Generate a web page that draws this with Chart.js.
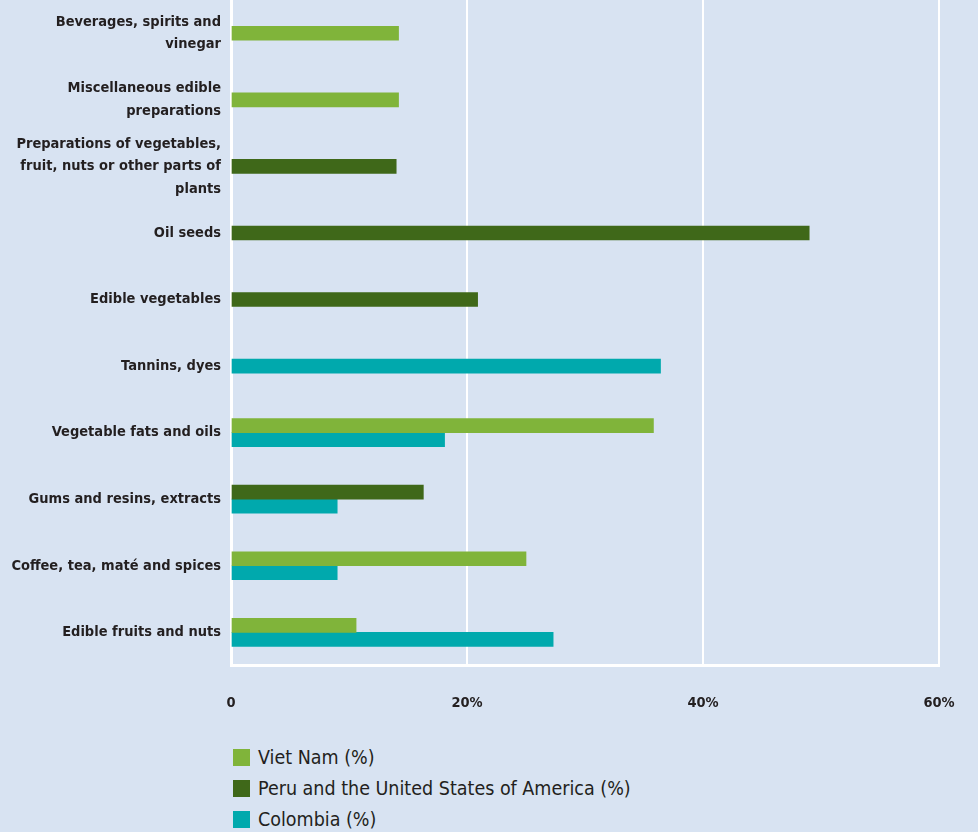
<!DOCTYPE html>
<html>
<head>
<meta charset="utf-8">
<script src="https://cdn.jsdelivr.net/npm/chart.js@4/dist/chart.umd.min.js"></script>
<style>
  html, body { margin: 0; padding: 0; background: #d8e3f2; }
  #wrap { position: relative; width: 978px; height: 741px; }
  #legend { margin: 1px 0 0 233px; font-family: "DejaVu Sans Condensed", "Liberation Sans Narrow", sans-serif;
            font-size: 19.5px; color: #231f20; }
  #legend div { height: 31px; line-height: 31px; display: flex; align-items: center; }
  #legend span.box { width: 17px; height: 17px; display: inline-block; margin-right: 8px; }
</style>
</head>
<body>
<div id="wrap"><canvas id="productChart"></canvas></div>
<div id="legend"></div>
<script>
// product groups, top to bottom
var categories = [
  ["Beverages, spirits and", "vinegar"],
  ["Miscellaneous edible", "preparations"],
  ["Preparations of vegetables,", "fruit, nuts or other parts of", "plants"],
  "Oil seeds",
  "Edible vegetables",
  "Tannins, dyes",
  "Vegetable fats and oils",
  "Gums and resins, extracts",
  "Coffee, tea, maté and spices",
  "Edible fruits and nuts"
];

var vietNam  = [14.2, 14.2, null, null, null, null, 35.8, null, 25.0, 10.6];
var peruUsa  = [null, null, 14.0, 49.0, 20.9, null, null, 16.3, null, null];
var colombia = [null, null, null, null, null, 36.4, 18.1, 9.0, 9.0, 27.3];

var seriesNames = ["Viet Nam (%)", "Peru and the United States of America (%)", "Colombia (%)"];
var seriesColors = ["#80b43a", "#3f6819", "#00a9ad"];

var xTicks = [0, 20, 40, 60];

var labelFont = "'DejaVu Sans Condensed', 'Liberation Sans Narrow', sans-serif";

function makeSet(i, values) {
  return {
    label: seriesNames[i],
    data: values,
    backgroundColor: seriesColors[i],
    borderWidth: 0,
    barThickness: 14
  };
}

var config = {
  type: 'bar',
  data: {
    labels: categories,
    datasets: [makeSet(0, vietNam), makeSet(1, peruUsa), makeSet(2, colombia)]
  },
  options: {
    indexAxis: 'y',
    responsive: false,
    animation: false,
    skipNull: true,
    layout: { padding: { left: 0, right: 39, top: 0, bottom: 0 } },
    plugins: {
      legend: { display: false },
      tooltip: { enabled: false }
    },
    scales: {
      x: {
        min: 0,
        max: 60,
        afterBuildTicks: function (scale) {
          scale.ticks = xTicks.map(function (v) { return { value: v }; });
        },
        afterFit: function (scale) { scale.paddingLeft = 0; scale.paddingRight = 0; },
        grid: { color: '#ffffff', lineWidth: 2, drawTicks: false },
        border: { color: '#ffffff', width: 3 },
        ticks: {
          padding: 29,
          color: '#231f20',
          font: { family: labelFont, size: 14.5, weight: 'bold' },
          callback: function (v) { return v === 0 ? '0' : v + '%'; }
        }
      },
      y: {
        afterFit: function (scale) {
          scale.width = 231;
          scale.paddingTop = 0;
          scale.paddingBottom = 0;
        },
        grid: { display: false, drawTicks: false },
        border: { color: '#ffffff', width: 3 },
        ticks: {
          autoSkip: false,
          padding: 10,
          color: '#231f20',
          font: { family: labelFont, size: 14.5, weight: 'bold', lineHeight: 1.55 }
        }
      }
    }
  }
};

var canvas = document.getElementById("productChart");
canvas.width = 978;
canvas.height = 741;
var chart = new Chart(canvas, config);

// vertical legend underneath, built from the datasets
var legend = document.getElementById("legend");
chart.data.datasets.forEach(function (ds) {
  var row = document.createElement("div");
  var box = document.createElement("span");
  box.className = "box";
  box.style.background = ds.backgroundColor;
  row.appendChild(box);
  row.appendChild(document.createTextNode(ds.label));
  legend.appendChild(row);
});
</script>
</body>
</html>
